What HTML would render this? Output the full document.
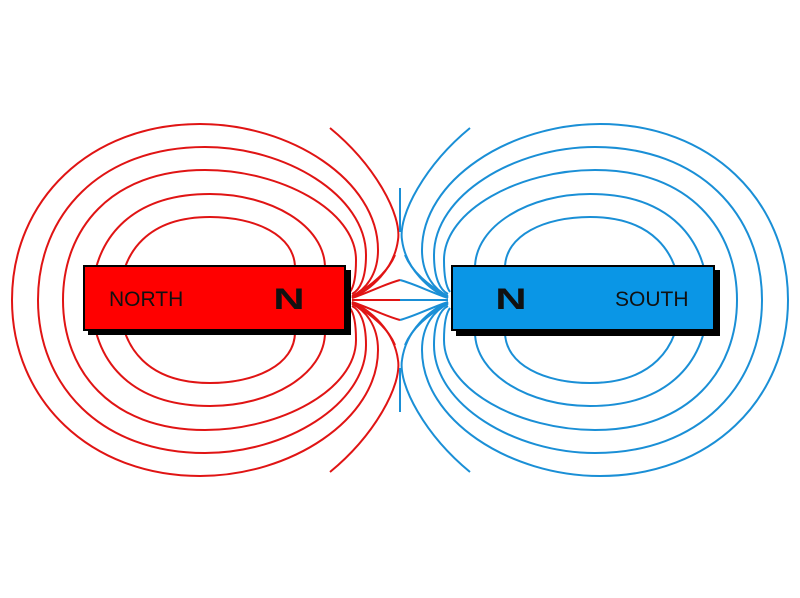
<!DOCTYPE html>
<html><head><style>
html,body{margin:0;padding:0;background:#fff;width:800px;height:598px;overflow:hidden}
</style></head><body>
<svg width="800" height="598" viewBox="0 0 800 598" xmlns="http://www.w3.org/2000/svg">
<defs>
<g id="field" fill="none" stroke-width="2">
  <path d="M352,296 C365,290 378,275 378,250 C378,180 290,124 200,124 C90,124 12,200 12,300 C12,400 90,476 200,476 C290,476 378,420 378,350 C378,325 365,310 352,304"/>
  <path d="M352,294 C360,290 366,278 366,255 C366,195 285,147 205,147 C100,147 38,215 38,300 C38,385 100,453 205,453 C285,453 366,405 366,345 C366,322 360,310 352,306"/>
  <path d="M350,292 C353,288 356,280 356,260 C356,210 280,170 205,170 C110,170 63,230 63,300 C63,370 110,430 205,430 C280,430 356,390 356,340 C356,320 353,312 350,308"/>
  <path d="M325,268 C325,225 270,194 210,194 C130,194 92,240 92,300 C92,360 130,406 210,406 C270,406 325,375 325,332"/>
  <path d="M295,268 C295,235 255,217 210,217 C150,217 120,250 120,300 C120,350 150,383 210,383 C255,383 295,365 295,332"/>
  <path d="M330,128 C375,165 402,215 398,240 C394,270 370,290 352,298"/>
  <path d="M330,472 C375,435 402,385 398,360 C394,330 370,310 352,302"/>
  <path d="M352,298 C370,292 385,284 400,280"/>
  <path d="M352,300 L400,300"/>
  <path d="M352,302 C370,308 385,316 400,320"/>
  <path d="M352,297 C372,285 388,272 395,255"/>
  <path d="M352,303 C372,315 388,328 395,345"/>
</g>
</defs>
<use href="#field" stroke="#e01414"/>
<g transform="translate(800,0) scale(-1,1)"><use href="#field" stroke="#1a8fd6"/></g>
<line x1="400" y1="188" x2="400" y2="232" stroke="#1a8fd6" stroke-width="2"/>
<line x1="400" y1="368" x2="400" y2="412" stroke="#1a8fd6" stroke-width="2"/>
<!-- red magnet -->
<rect x="88" y="270" width="263" height="65" fill="#000"/>
<rect x="84" y="266" width="261" height="64" fill="#ff0000" stroke="#000" stroke-width="2"/>
<text x="109" y="306" font-family="Liberation Sans, sans-serif" font-size="21" fill="#111">NORTH</text>
<text x="289" y="309" text-anchor="middle" font-family="Liberation Sans, sans-serif" font-weight="bold" font-size="30" fill="#111" transform="translate(289,0) scale(1.45,1) translate(-289,0)">N</text>
<!-- blue magnet -->
<rect x="456" y="270" width="264" height="66" fill="#000"/>
<rect x="452" y="266" width="262" height="64" fill="#0a96e6" stroke="#000" stroke-width="2"/>
<text x="615" y="306" font-family="Liberation Sans, sans-serif" font-size="21" fill="#111">SOUTH</text>
<text x="511" y="309" text-anchor="middle" font-family="Liberation Sans, sans-serif" font-weight="bold" font-size="30" fill="#111" transform="translate(511,0) scale(1.45,1) translate(-511,0)">N</text>
</svg>
</body></html>
